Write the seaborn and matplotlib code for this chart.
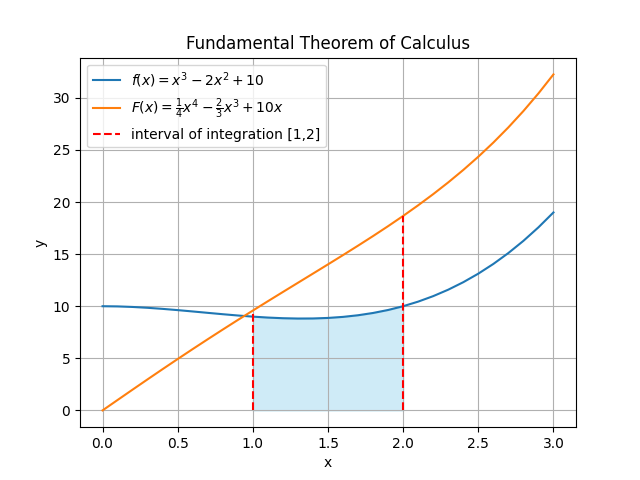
import matplotlib
matplotlib.use("Agg")
import matplotlib.pyplot as plt
import numpy as np
import pandas as pd
import seaborn as sns

# sample points, step 0.1
xs = [0.0, 0.1, 0.2, 0.3, 0.4, 0.5, 0.6, 0.7, 0.8, 0.9, 1.0,
      1.1, 1.2, 1.3, 1.4, 1.5, 1.6, 1.7, 1.8, 1.9, 2.0,
      2.1, 2.2, 2.3, 2.4, 2.5, 2.6, 2.7, 2.8, 2.9, 3.0]
f_vals = [10.0, 9.981, 9.928, 9.847, 9.744, 9.625, 9.496, 9.363, 9.232, 9.109, 9.0,
          8.911, 8.848, 8.817, 8.824, 8.875, 8.976, 9.133, 9.352, 9.639, 10.0,
          10.441, 10.968, 11.587, 12.304, 13.125, 14.056, 15.103, 16.272, 17.569, 19.0]
F_vals = [0.0, 0.999, 1.995, 2.984, 3.964, 4.932, 5.888, 6.831, 7.761, 8.678, 9.583,
          10.479, 11.366, 12.249, 13.131, 14.016, 14.908, 15.813, 16.736, 17.685, 18.667,
          19.688, 20.758, 21.885, 23.078, 24.349, 25.707, 27.164, 28.732, 30.423, 32.25]
interval = [1.0, 2.0]

df = pd.DataFrame({"x": xs, "f": f_vals, "F": F_vals})

fig, ax = plt.subplots(figsize=(6.4, 4.8), dpi=100)
sns.lineplot(x="x", y="f", data=df, ax=ax, color="tab:blue",
             label=r"$f(x) = x^3 - 2x^2 + 10$")
sns.lineplot(x="x", y="F", data=df, ax=ax, color="tab:orange",
             label=r"$F(x) = \frac{1}{4}x^4 - \frac{2}{3}x^3 + 10x$")

seg = df[(df["x"] >= interval[0]) & (df["x"] <= interval[1])]
ax.fill_between(seg["x"], seg["f"], color="skyblue", alpha=0.4)

tops = [df.loc[df["x"] == v, "F"].iloc[0] for v in interval]
ax.vlines(interval, 0, tops, colors="red", linestyles="dashed",
          label="interval of integration [1,2]")

ax.set_title("Fundamental Theorem of Calculus")
ax.set_xlabel("x")
ax.set_ylabel("y")
ax.grid(True)
ax.legend(loc="upper left")
plt.savefig("out.png")
